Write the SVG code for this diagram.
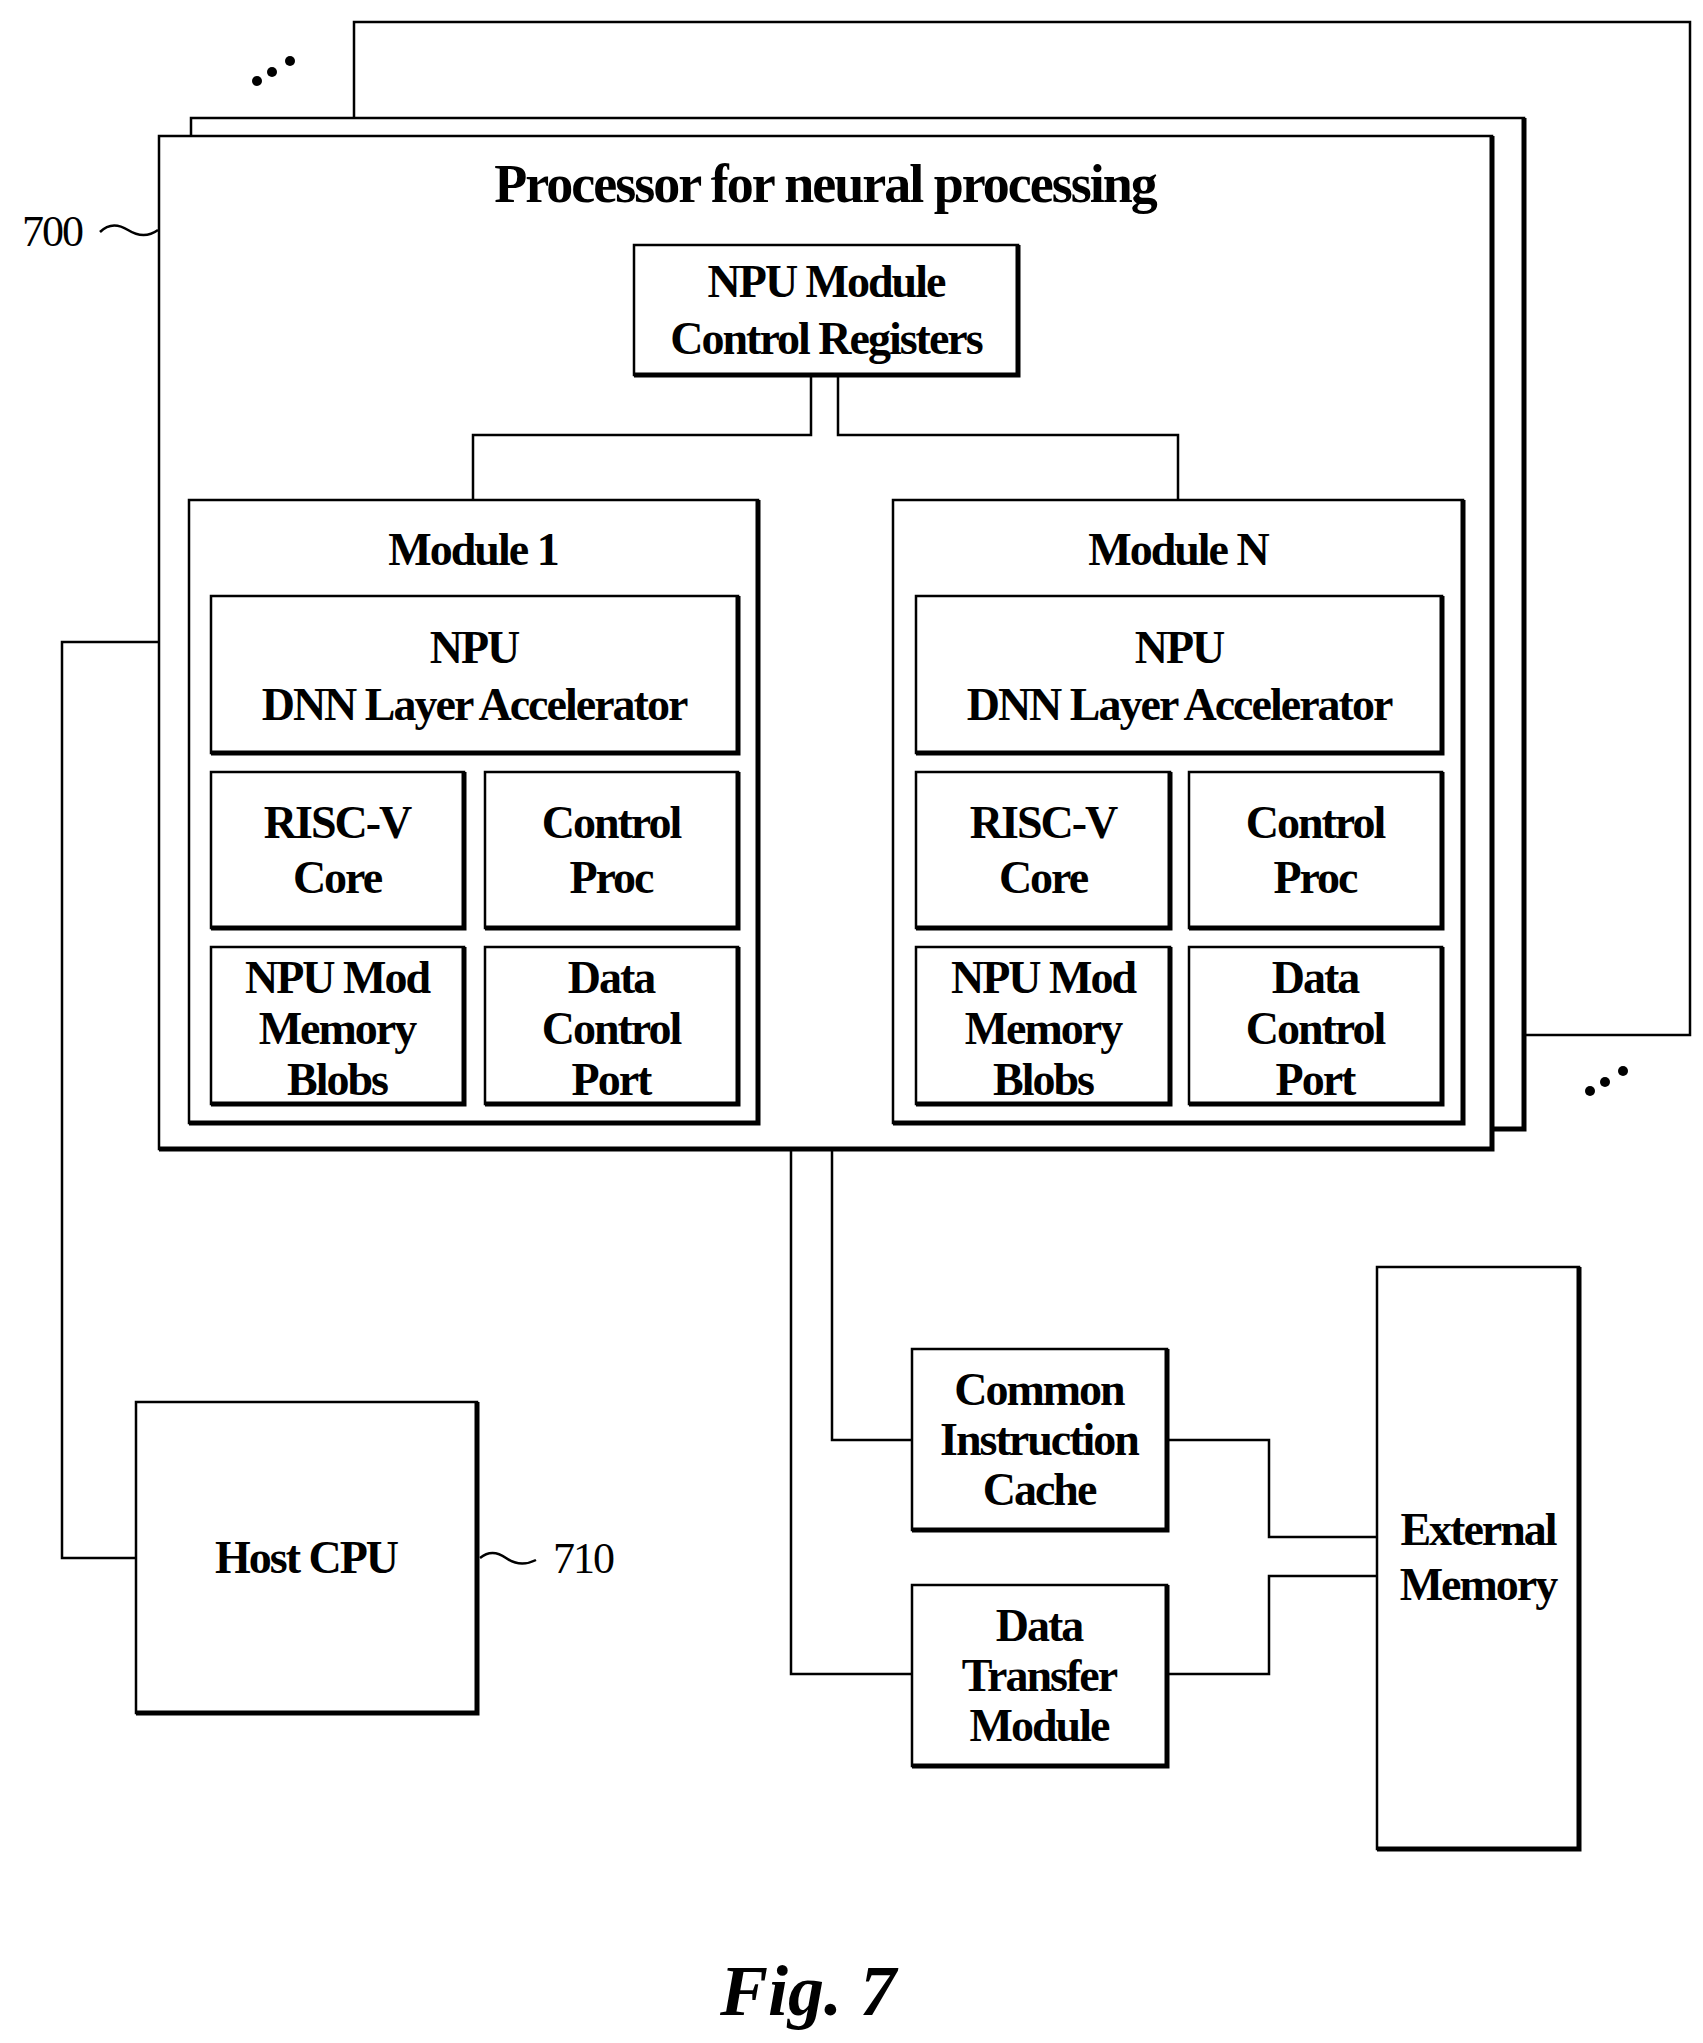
<svg xmlns="http://www.w3.org/2000/svg" width="1703" height="2043" viewBox="0 0 1703 2043">
<style>
.b{fill:#fff;stroke:#000;stroke-width:2.5}
.s{fill:none;stroke:#000;stroke-width:5}
.c{fill:none;stroke:#000;stroke-width:2.5}
text{font-family:"Liberation Serif","DejaVu Serif",serif;font-size:46px;text-anchor:middle;fill:#000;font-weight:bold;letter-spacing:-2px}
.t{font-size:54px}
.l{font-weight:normal;font-size:44px}
.f{font-size:72px;font-style:italic;letter-spacing:0}
</style>
<g id="frame-back"><rect class="b" x="354" y="22" width="1336" height="1013"/></g>
<g id="frame-mid"><rect class="b" x="191" y="118" width="1333" height="1011"/><polyline class="s" points="1524,118 1524,1129 191,1129"/></g>
<g id="dots"><circle cx="257" cy="81" r="5"/><circle cx="272" cy="72" r="5"/><circle cx="290" cy="61" r="5"/>
<circle cx="1590" cy="1091" r="5"/><circle cx="1605" cy="1082" r="5"/><circle cx="1623" cy="1071" r="5"/></g>
<g id="n700">
<rect class="b" x="159" y="136" width="1333" height="1013"/><polyline class="s" points="1492,136 1492,1149 159,1149"/>
<text class="t" x="825" y="202">Processor for neural processing</text>
<text class="l" x="52" y="246">700</text>
<path class="c" d="M100,232 q12,-12 28,-2 t30,0"/>
</g>
<g id="regs"><rect class="b" x="634" y="245" width="384" height="130"/><polyline class="s" points="1018,245 1018,375 634,375"/>
<text x="826" y="297">NPU Module</text><text x="826" y="354">Control Registers</text></g>
<g id="module1"><rect class="b" x="189" y="500" width="569" height="623"/><polyline class="s" points="758,500 758,1123 189,1123"/>
<text x="473" y="565">Module 1</text>
<rect class="b" x="211" y="596" width="527" height="157"/><polyline class="s" points="738,596 738,753 211,753"/>
<text x="474" y="663">NPU</text><text x="474" y="720">DNN Layer Accelerator</text>
<rect class="b" x="211" y="772" width="253" height="156"/><polyline class="s" points="464,772 464,928 211,928"/>
<text x="337" y="838">RISC-V</text><text x="337" y="893">Core</text>
<rect class="b" x="485" y="772" width="253" height="156"/><polyline class="s" points="738,772 738,928 485,928"/>
<text x="611" y="838">Control</text><text x="611" y="893">Proc</text>
<rect class="b" x="211" y="947" width="253" height="157"/><polyline class="s" points="464,947 464,1104 211,1104"/>
<text x="337" y="993">NPU Mod</text><text x="337" y="1044">Memory</text><text x="337" y="1095">Blobs</text>
<rect class="b" x="485" y="947" width="253" height="157"/><polyline class="s" points="738,947 738,1104 485,1104"/>
<text x="611" y="993">Data</text><text x="611" y="1044">Control</text><text x="611" y="1095">Port</text>
</g>
<g id="moduleN"><rect class="b" x="893" y="500" width="570" height="623"/><polyline class="s" points="1463,500 1463,1123 893,1123"/>
<text x="1178" y="565">Module N</text>
<rect class="b" x="916" y="596" width="526" height="157"/><polyline class="s" points="1442,596 1442,753 916,753"/>
<text x="1179" y="663">NPU</text><text x="1179" y="720">DNN Layer Accelerator</text>
<rect class="b" x="916" y="772" width="254" height="156"/><polyline class="s" points="1170,772 1170,928 916,928"/>
<text x="1043" y="838">RISC-V</text><text x="1043" y="893">Core</text>
<rect class="b" x="1189" y="772" width="253" height="156"/><polyline class="s" points="1442,772 1442,928 1189,928"/>
<text x="1315" y="838">Control</text><text x="1315" y="893">Proc</text>
<rect class="b" x="916" y="947" width="254" height="157"/><polyline class="s" points="1170,947 1170,1104 916,1104"/>
<text x="1043" y="993">NPU Mod</text><text x="1043" y="1044">Memory</text><text x="1043" y="1095">Blobs</text>
<rect class="b" x="1189" y="947" width="253" height="157"/><polyline class="s" points="1442,947 1442,1104 1189,1104"/>
<text x="1315" y="993">Data</text><text x="1315" y="1044">Control</text><text x="1315" y="1095">Port</text>
</g>
<g id="host"><rect class="b" x="136" y="1402" width="341" height="311"/><polyline class="s" points="477,1402 477,1713 136,1713"/>
<text x="306" y="1573">Host CPU</text>
<text class="l" x="583" y="1573">710</text>
<path class="c" d="M480,1558 q12,-10 26,0 t30,2"/></g>
<g id="cache"><rect class="b" x="912" y="1349" width="255" height="181"/><polyline class="s" points="1167,1349 1167,1530 912,1530"/>
<text x="1039" y="1405">Common</text><text x="1039" y="1455">Instruction</text><text x="1039" y="1505">Cache</text></g>
<g id="dtm"><rect class="b" x="912" y="1585" width="255" height="181"/><polyline class="s" points="1167,1585 1167,1766 912,1766"/>
<text x="1039" y="1641">Data</text><text x="1039" y="1691">Transfer</text><text x="1039" y="1741">Module</text></g>
<g id="extmem"><rect class="b" x="1377" y="1267" width="202" height="582"/><polyline class="s" points="1579,1267 1579,1849 1377,1849"/>
<text x="1478" y="1545">External</text><text x="1478" y="1600">Memory</text></g>
<g id="connectors">
<polyline class="c" points="811,377 811,435 473,435 473,500"/>
<polyline class="c" points="838,377 838,435 1178,435 1178,500"/>
<polyline class="c" points="159,642 62,642 62,1558 136,1558"/>
<polyline class="c" points="832,1151 832,1440 912,1440"/>
<polyline class="c" points="791,1151 791,1674 912,1674"/>
<polyline class="c" points="1167,1440 1269,1440 1269,1537 1377,1537"/>
<polyline class="c" points="1167,1674 1269,1674 1269,1576 1377,1576"/>
</g>
<text class="f" x="808" y="2015">Fig. 7</text>
</svg>
